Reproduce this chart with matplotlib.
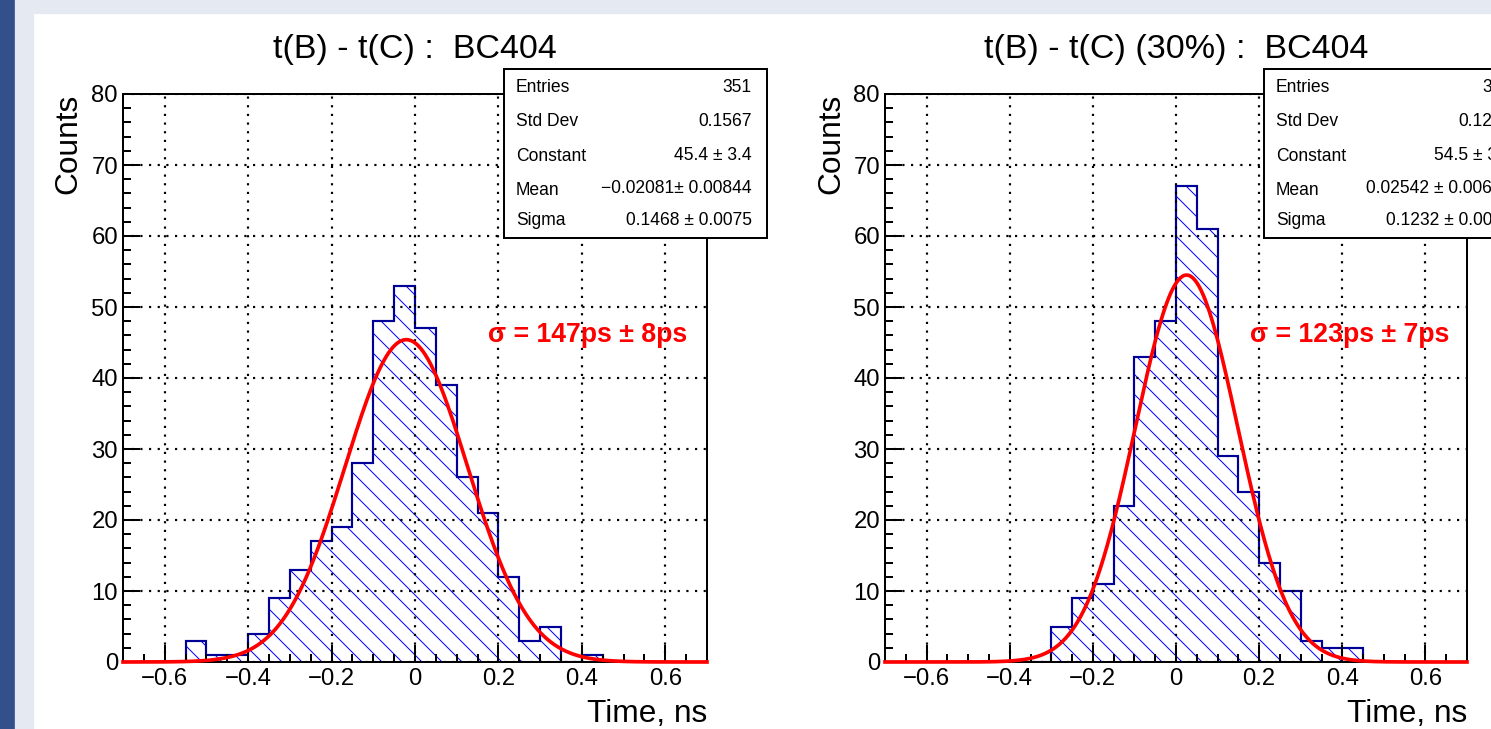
import numpy as np
import matplotlib
matplotlib.use('Agg')
import matplotlib.pyplot as plt
from matplotlib.patches import Rectangle
from matplotlib.ticker import MultipleLocator, FuncFormatter

# histogram binning (ns)
bin_lo = -0.7
bin_hi = 0.7
n_bins = 28

# counts per bin
counts_left = [0, 0, 0, 3, 1, 1, 4, 9, 13, 17, 19, 28, 48, 53, 47, 39, 26, 21, 12, 3, 5, 0, 1, 0, 0, 0, 0, 0]
counts_right = [0, 0, 0, 0, 0, 0, 0, 0, 5, 9, 11, 22, 43, 48, 67, 61, 29, 24, 14, 10, 3, 2, 2, 0, 0, 0, 0, 0]

# gaus fit results: constant, mean, sigma
fit_left = (45.4, -0.02081, 0.1468)
fit_right = (54.5, 0.02542, 0.1232)

titles = ["t(B) - t(C) :  BC404", "t(B) - t(C) (30%) :  BC404"]
stat_names = ["Entries", "Std Dev", "Constant", "Mean", "Sigma"]
stats_left = ["351", "0.1567", "45.4 \u00b1 3.4", "\u22120.02081\u00b1 0.00844", "0.1468 \u00b1 0.0075"]
stats_right = ["351", "0.1261", "54.5 \u00b1 3.9", "0.02542 \u00b1 0.00659", "0.1232 \u00b1 0.0069"]
sigma_labels = ["\u03c3 = 147ps \u00b1 8ps", "\u03c3 = 123ps \u00b1 7ps"]

W, H = 1491, 729
DPI = 120

plt.rcParams['font.family'] = ['Liberation Sans', 'DejaVu Sans']
plt.rcParams['hatch.linewidth'] = 0.6


def fx(x):  # pixel -> figure fraction
    return x / W


def fy(y):
    return 1 - y / H


def tick_fmt(v, pos):
    if abs(v) < 1e-9:
        return '0'
    return ('%.1f' % v).replace('-', '\u2212')


fig = plt.figure(figsize=(W / DPI, H / DPI), dpi=DPI)
fig.patch.set_facecolor('#e5e9f1')
fig.add_artist(Rectangle((0, 0), fx(14), 1, transform=fig.transFigure, color='#33508a', zorder=-5))
fig.add_artist(Rectangle((fx(35), 0), 1, fy(15), transform=fig.transFigure, color='white', zorder=-5))

edges = np.linspace(bin_lo, bin_hi, n_bins + 1)
panels = [
    (123, 707, counts_left, fit_left, stats_left, sigma_labels[0], titles[0], 504, 488),
    (885, 1467, counts_right, fit_right, stats_right, sigma_labels[1], titles[1], 1264, 1250),
]

for x0, x1, counts, fit, stats, siglab, title, box_x, sig_x in panels:
    ax = fig.add_axes([fx(x0), fy(662), (x1 - x0) / W, (662 - 94) / H])
    ax.set_facecolor('white')

    # hatched fill + dark blue outline
    ax.stairs(counts, edges, fill=True, facecolor='none', edgecolor='#0000ff', hatch='\\\\', linewidth=0)
    ax.stairs(counts, edges, color='#000099', linewidth=1.3)

    c, m, s = fit
    xs = np.linspace(bin_lo, bin_hi, 600)
    ax.plot(xs, c * np.exp(-0.5 * ((xs - m) / s) ** 2), color='#ff0000', lw=2.2, zorder=5, clip_on=False)

    ax.set_xlim(bin_lo, bin_hi)
    ax.set_ylim(0, 80)
    ax.xaxis.set_major_locator(MultipleLocator(0.2))
    ax.xaxis.set_minor_locator(MultipleLocator(0.05))
    ax.yaxis.set_major_locator(MultipleLocator(10))
    ax.yaxis.set_minor_locator(MultipleLocator(2))
    ax.xaxis.set_major_formatter(FuncFormatter(tick_fmt))
    ax.tick_params(which='both', direction='in', top=False, right=False, width=1.2, labelsize=14.3)
    ax.tick_params(which='major', length=10)
    ax.tick_params(which='minor', length=4.8)
    ax.tick_params(axis='x', pad=3.5)
    ax.tick_params(axis='y', pad=3)
    ax.grid(True, which='major', color='black', linestyle=(0, (1, 3)), linewidth=1.3)
    ax.set_axisbelow(False)
    for sp in ax.spines.values():
        sp.set_linewidth(1.2)

    ax.set_ylabel('Counts', fontsize=19, loc='top')
    ax.yaxis.set_label_coords(-0.067, 1.0)
    ax.set_xlabel('Time, ns', fontsize=19, loc='right')
    ax.xaxis.set_label_coords(1.0, -0.066)

    fig.text(fx((x0 + x1) / 2), fy(58), title, ha='center', va='baseline', fontsize=20.4)

    # stats box
    fig.add_artist(Rectangle((fx(box_x), fy(238)), 263 / W, 169 / H, transform=fig.transFigure,
                             facecolor='white', edgecolor='black', lw=1.2, zorder=10))
    label_y = [92, 126, 161, 195, 225]
    value_y = [92, 126, 160, 193, 225]
    for name, val, ly, vy in zip(stat_names, stats, label_y, value_y):
        fig.text(fx(box_x + 12), fy(ly), name, ha='left', va='baseline', fontsize=10.5, zorder=11)
        fig.text(fx(box_x + 248), fy(vy), val, ha='right', va='baseline', fontsize=10.5, zorder=11)

    fig.text(fx(sig_x), fy(342), siglab, color='#ff0000', fontweight='bold', fontsize=16,
             ha='left', va='baseline', zorder=11)

fig.savefig('out.png', dpi=DPI)
